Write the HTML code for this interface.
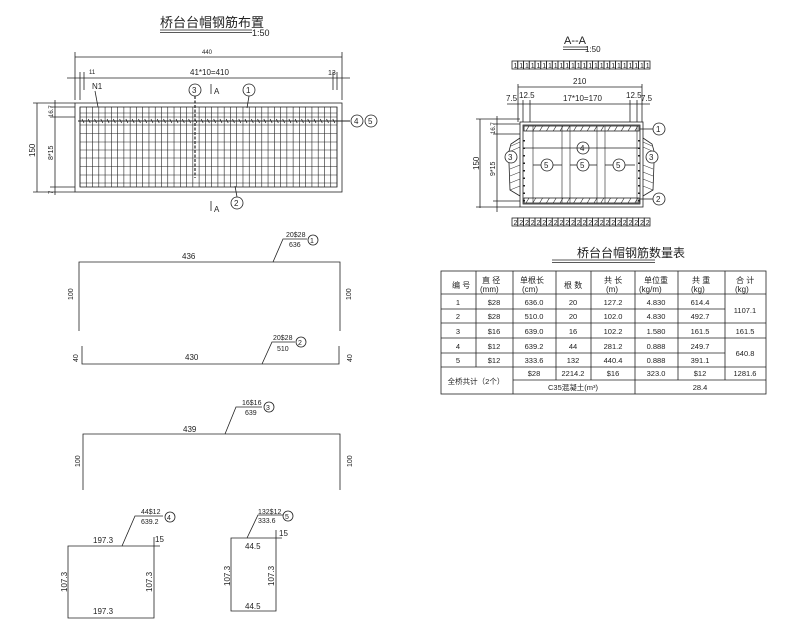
<!DOCTYPE html>
<html><head><meta charset="utf-8"><style>
html,body{margin:0;padding:0;background:#fff;}
svg{display:block;}
text{font-family:"Liberation Sans","Noto Sans CJK SC",sans-serif;fill:#222;}
</style></head><body>
<svg id="s" width="800" height="640" viewBox="0 0 800 640" xmlns="http://www.w3.org/2000/svg" stroke="#222" stroke-width="0.8" fill="none">
<!-- ===== Top plan ===== -->
<text x="160" y="27" font-size="13" stroke="none">桥台台帽钢筋布置</text>
<line x1="160" y1="30" x2="252" y2="30"/><line x1="160" y1="32.5" x2="252" y2="32.5"/>
<text x="252" y="36" font-size="9" stroke="none">1:50</text>
<line x1="75" y1="57" x2="342" y2="57"/>
<line x1="75" y1="52" x2="75" y2="100"/><line x1="342" y1="52" x2="342" y2="100"/>
<text x="202" y="54" font-size="6" stroke="none">440</text>
<line x1="67" y1="78" x2="350" y2="78"/>
<line x1="80" y1="72" x2="80" y2="100"/><line x1="84" y1="72" x2="84" y2="90"/>
<line x1="333" y1="72" x2="333" y2="90"/><line x1="337" y1="72" x2="337" y2="90"/>
<text x="190" y="75" font-size="8" stroke="none">41*10=410</text>
<text x="89" y="74" font-size="6" stroke="none">11</text>
<text x="328" y="75" font-size="7" stroke="none">13</text>
<text x="92" y="89" font-size="8" stroke="none">N1</text>
<line x1="95" y1="91" x2="98" y2="107"/>
<rect x="75" y="103" width="267" height="89"/>
<rect x="80" y="107" width="257" height="80"/>
<g id="grid"></g>
<line x1="78" y1="121" x2="350" y2="121" stroke-width="1"/>
<line x1="195" y1="96" x2="195" y2="178" stroke-width="1.2" stroke-dasharray="3,1.5"/>
<circle cx="195" cy="90" r="6"/><text x="192" y="93" font-size="8" stroke="none">3</text>
<circle cx="249" cy="90" r="6"/><text x="246" y="93" font-size="8" stroke="none">1</text>
<line x1="249" y1="96" x2="247" y2="108"/>
<circle cx="237" cy="203" r="6"/><text x="234" y="206" font-size="8" stroke="none">2</text>
<line x1="237" y1="197" x2="235" y2="186"/>
<line x1="211" y1="84" x2="211" y2="94"/><text x="214" y="94" font-size="8" stroke="none">A</text>
<line x1="211" y1="201" x2="211" y2="211"/><text x="214" y="212" font-size="8" stroke="none">A</text>
<circle cx="357" cy="121" r="6"/><text x="354" y="124" font-size="8" stroke="none">4</text>
<circle cx="371" cy="121" r="6"/><text x="368" y="124" font-size="8" stroke="none">5</text>
<line x1="37" y1="103" x2="37" y2="192"/><line x1="55" y1="100" x2="55" y2="195"/>
<line x1="33" y1="103" x2="75" y2="103"/><line x1="33" y1="192" x2="75" y2="192"/>
<line x1="50" y1="107" x2="75" y2="107"/><line x1="50" y1="117" x2="75" y2="117"/><line x1="50" y1="187" x2="75" y2="187"/>
<text transform="translate(35,157) rotate(-90)" font-size="8" stroke="none">150</text>
<text transform="translate(53,160) rotate(-90)" font-size="7" stroke="none">8*15</text>
<text transform="translate(53,117) rotate(-90)" font-size="6" stroke="none">16.7</text>
<text transform="translate(53,194) rotate(-90)" font-size="6" stroke="none">7</text>

<!-- ===== Shapes ===== -->
<polyline points="79,331 79,262 340,262 340,331"/>
<text x="182" y="259" font-size="8" stroke="none">436</text>
<polyline points="273,262 283,239 307,239"/>
<text x="286" y="237" font-size="7" stroke="none">20$28</text>
<text x="289" y="247" font-size="7" stroke="none">636</text>
<circle cx="313" cy="240" r="5"/><text x="310" y="243" font-size="7" stroke="none">1</text>
<text transform="translate(73,300) rotate(-90)" font-size="7" stroke="none">100</text>
<text transform="translate(351,300) rotate(-90)" font-size="7" stroke="none">100</text>

<polyline points="82,346 82,364 339,364 339,346"/>
<text x="185" y="360" font-size="8" stroke="none">430</text>
<polyline points="262,364 272,342 295,342"/>
<text x="273" y="340" font-size="7" stroke="none">20$28</text>
<text x="277" y="351" font-size="7" stroke="none">510</text>
<circle cx="301" cy="342" r="5"/><text x="298" y="345" font-size="7" stroke="none">2</text>
<text transform="translate(78,362) rotate(-90)" font-size="7" stroke="none">40</text>
<text transform="translate(352,362) rotate(-90)" font-size="7" stroke="none">40</text>

<polyline points="83,490 83,434 340,434 340,490"/>
<text x="183" y="432" font-size="8" stroke="none">439</text>
<polyline points="225,434 236,407 262,407"/>
<text x="242" y="405" font-size="7" stroke="none">16$16</text>
<text x="245" y="415" font-size="7" stroke="none">639</text>
<circle cx="269" cy="407" r="5"/><text x="266" y="410" font-size="7" stroke="none">3</text>
<text transform="translate(80,467) rotate(-90)" font-size="7" stroke="none">100</text>
<text transform="translate(352,467) rotate(-90)" font-size="7" stroke="none">100</text>

<polyline points="160,546 68,546 68,618 154,618 154,537"/>
<text x="155" y="542" font-size="8" stroke="none">15</text>
<text x="93" y="543" font-size="8" stroke="none">197.3</text>
<text x="93" y="614" font-size="8" stroke="none">197.3</text>
<polyline points="122,546 135,516 163,516"/>
<text x="141" y="514" font-size="7" stroke="none">44$12</text>
<text x="141" y="524" font-size="7" stroke="none">639.2</text>
<circle cx="170" cy="517" r="5"/><text x="167" y="520" font-size="7" stroke="none">4</text>
<text transform="translate(67,592) rotate(-90)" font-size="8" stroke="none">107.3</text>
<text transform="translate(152,592) rotate(-90)" font-size="8" stroke="none">107.3</text>

<polyline points="282,538 231,538 231,611 276,611 276,530"/>
<text x="279" y="536" font-size="8" stroke="none">15</text>
<text x="245" y="549" font-size="8" stroke="none">44.5</text>
<text x="245" y="609" font-size="8" stroke="none">44.5</text>
<polyline points="247,538 258,515 283,515"/>
<text x="258" y="514" font-size="7" stroke="none">132$12</text>
<text x="258" y="523" font-size="7" stroke="none">333.6</text>
<circle cx="288" cy="516" r="5"/><text x="285" y="519" font-size="7" stroke="none">5</text>
<text transform="translate(230,586) rotate(-90)" font-size="8" stroke="none">107.3</text>
<text transform="translate(274,586) rotate(-90)" font-size="8" stroke="none">107.3</text>

<!-- ===== Section A-A ===== -->
<text x="564" y="44" font-size="11" stroke="none">A--A</text>
<line x1="563" y1="47" x2="588" y2="47"/><line x1="563" y1="49.5" x2="588" y2="49.5"/>
<text x="585" y="52" font-size="8" stroke="none">1:50</text>
<g id="box1"></g><g id="box2"></g>
<line x1="518" y1="87" x2="642" y2="87"/>
<text x="573" y="84" font-size="8" stroke="none">210</text>
<line x1="507" y1="104" x2="650" y2="104"/>
<line x1="518" y1="84" x2="518" y2="122"/><line x1="523" y1="100" x2="523" y2="122"/><line x1="530" y1="100" x2="530" y2="122"/>
<line x1="642" y1="84" x2="642" y2="122"/><line x1="637" y1="100" x2="637" y2="122"/><line x1="630" y1="100" x2="630" y2="122"/>
<text x="506" y="101" font-size="8" stroke="none">7.5</text>
<text x="519" y="98" font-size="8" stroke="none">12.5</text>
<text x="563" y="101" font-size="8" stroke="none">17*10=170</text>
<text x="626" y="98" font-size="8" stroke="none">12.5</text>
<text x="641" y="101" font-size="8" stroke="none">7.5</text>
<rect x="520" y="122" width="123" height="85"/>
<rect x="523" y="125" width="117" height="79"/>
<rect x="524" y="126" width="115" height="5"/>
<rect x="524" y="198" width="115" height="5"/>
<g id="sec"></g>
<line x1="523" y1="148" x2="640" y2="148"/>
<circle cx="583" cy="148" r="6"/><text x="580" y="151" font-size="8" stroke="none">4</text>
<circle cx="547" cy="165" r="6"/><text x="544" y="168" font-size="8" stroke="none">5</text>
<circle cx="583" cy="165" r="6"/><text x="580" y="168" font-size="8" stroke="none">5</text>
<circle cx="619" cy="165" r="6"/><text x="616" y="168" font-size="8" stroke="none">5</text>
<line x1="533" y1="165" x2="541" y2="165"/><line x1="553" y1="165" x2="562" y2="165"/>
<line x1="570" y1="165" x2="577" y2="165"/><line x1="589" y1="165" x2="597" y2="165"/>
<line x1="605" y1="165" x2="613" y2="165"/><line x1="625" y1="165" x2="635" y2="165"/>
<circle cx="511" cy="157" r="6" fill="#fff"/><text x="508" y="160" font-size="8" stroke="none">3</text>
<circle cx="652" cy="157" r="6" fill="#fff"/><text x="649" y="160" font-size="8" stroke="none">3</text>
<polyline points="520,138 511,144 509,151"/><polyline points="509,163 510,190 520,196"/>
<polyline points="643,138 652,144 654,151"/><polyline points="654,163 653,190 643,196"/>
<circle cx="659" cy="129" r="6"/><text x="656" y="132" font-size="8" stroke="none">1</text>
<line x1="640" y1="129" x2="653" y2="129"/>
<circle cx="659" cy="199" r="6"/><text x="656" y="202" font-size="8" stroke="none">2</text>
<line x1="640" y1="199" x2="653" y2="199"/>
<line x1="480" y1="119" x2="480" y2="208"/><line x1="497" y1="116" x2="497" y2="212"/>
<line x1="476" y1="119" x2="520" y2="119"/><line x1="476" y1="207" x2="520" y2="207"/>
<line x1="493" y1="124" x2="520" y2="124"/><line x1="493" y1="134" x2="520" y2="134"/><line x1="493" y1="201" x2="520" y2="201"/>
<text transform="translate(479,170) rotate(-90)" font-size="8" stroke="none">150</text>
<text transform="translate(495,176) rotate(-90)" font-size="7" stroke="none">9*15</text>
<text transform="translate(495,134) rotate(-90)" font-size="6" stroke="none">16.7</text>

<!-- ===== Table ===== -->
<text x="577" y="257" font-size="12" stroke="none">桥台台帽钢筋数量表</text>
<line x1="552" y1="260" x2="655" y2="260"/><line x1="552" y1="262.5" x2="655" y2="262.5"/>
<rect x="441" y="271" width="325" height="123"/>
<g id="tbl"></g>
<g font-size="8" stroke="none">
<text x="452" y="288">编 号</text>
<text x="482" y="283">直 径</text><text x="480" y="292">(mm)</text>
<text x="520" y="283">单根长</text><text x="522" y="292">(cm)</text>
<text x="564" y="288">根 数</text>
<text x="604" y="283">共 长</text><text x="606" y="292">(m)</text>
<text x="644" y="283">单位重</text><text x="639" y="292">(kg/m)</text>
<text x="692" y="283">共 重</text><text x="691" y="292">(kg)</text>
<text x="736" y="283">合 计</text><text x="735" y="292">(kg)</text>
</g>
<g font-size="7.5" stroke="none" text-anchor="middle">
<text x="458" y="305">1</text><text x="494" y="305">$28</text><text x="534" y="305">636.0</text><text x="573" y="305">20</text><text x="613" y="305">127.2</text><text x="656" y="305">4.830</text><text x="700" y="305">614.4</text>
<text x="458" y="319">2</text><text x="494" y="319">$28</text><text x="534" y="319">510.0</text><text x="573" y="319">20</text><text x="613" y="319">102.0</text><text x="656" y="319">4.830</text><text x="700" y="319">492.7</text>
<text x="745" y="313">1107.1</text>
<text x="458" y="334">3</text><text x="494" y="334">$16</text><text x="534" y="334">639.0</text><text x="573" y="334">16</text><text x="613" y="334">102.2</text><text x="656" y="334">1.580</text><text x="700" y="334">161.5</text><text x="745" y="334">161.5</text>
<text x="458" y="349">4</text><text x="494" y="349">$12</text><text x="534" y="349">639.2</text><text x="573" y="349">44</text><text x="613" y="349">281.2</text><text x="656" y="349">0.888</text><text x="700" y="349">249.7</text>
<text x="458" y="363">5</text><text x="494" y="363">$12</text><text x="534" y="363">333.6</text><text x="573" y="363">132</text><text x="613" y="363">440.4</text><text x="656" y="363">0.888</text><text x="700" y="363">391.1</text>
<text x="745" y="356">640.8</text>
<text x="476" y="384">全桥共计（2个）</text>
<text x="534" y="376">$28</text><text x="573" y="376">2214.2</text><text x="613" y="376">$16</text><text x="656" y="376">323.0</text><text x="700" y="376">$12</text><text x="745" y="376">1281.6</text>
<text x="573" y="390">C35混凝土(m³)</text><text x="700" y="390">28.4</text>
</g>
</svg>
<script>
var NS="http://www.w3.org/2000/svg";
function L(g,x1,y1,x2,y2,w){var l=document.createElementNS(NS,"line");l.setAttribute("x1",x1);l.setAttribute("y1",y1);l.setAttribute("x2",x2);l.setAttribute("y2",y2);if(w)l.setAttribute("stroke-width",w);g.appendChild(l);}
var g=document.getElementById("grid");
for(var i=0;i<=41;i++){var x=80+i*257/41;L(g,x,107,x,187,0.6);}
[113,117,125,133.5,142,150,158,166.5,175,183].forEach(function(y){L(g,80,y,337,y,0.6);});
for(var i=0;i<41;i++){var x=82+i*6.27;L(g,x,119,x+2,123,0.8);}
var b1=document.getElementById("box1"),b2=document.getElementById("box2");
function boxes(g,y,t){var n=24,w=138/n;for(var i=0;i<n;i++){var r=document.createElementNS(NS,"rect");r.setAttribute("x",512+i*w);r.setAttribute("y",y);r.setAttribute("width",w);r.setAttribute("height",8);g.appendChild(r);var tx=document.createElementNS(NS,"text");tx.setAttribute("x",512+i*w+1.5);tx.setAttribute("y",y+7);tx.setAttribute("font-size","7");tx.setAttribute("stroke","none");tx.textContent=t;g.appendChild(tx);}}
boxes(b1,61,"1");boxes(b2,218,"2");
var s=document.getElementById("sec");
[533,562,570,597,605,637].forEach(function(x){L(s,x,126,x,203,0.6);});
for(var i=0;i<17;i++){var x=526+i*6.8;L(s,x,131,x+3,126,0.6);L(s,x,203,x+3,198,0.6);}
for(var i=0;i<9;i++){var y=140+i*7.5;L(s,524,y,524,y+1.5,2);L(s,639,y,639,y+1.5,2);}
[165,172,179,186].forEach(function(y){L(s,510,y+4,520,y,0.5);L(s,653,y+4,643,y,0.5);});
[142,147].forEach(function(y){L(s,511,y+4,520,y,0.5);L(s,652,y+4,643,y,0.5);});
var t=document.getElementById("tbl");
[476,513,556,591,635,678,725].forEach(function(x){L(t,x,271,x,367);});
L(t,725,367,725,380);
L(t,513,367,513,394);L(t,635,367,635,394);
[556,591,678].forEach(function(x){L(t,x,367,x,380);});
L(t,441,294,766,294);L(t,441,309,725,309);L(t,441,323,766,323);L(t,441,338,766,338);L(t,441,353,725,353);L(t,441,367,766,367);L(t,513,380,766,380);
</script>
</body></html>
